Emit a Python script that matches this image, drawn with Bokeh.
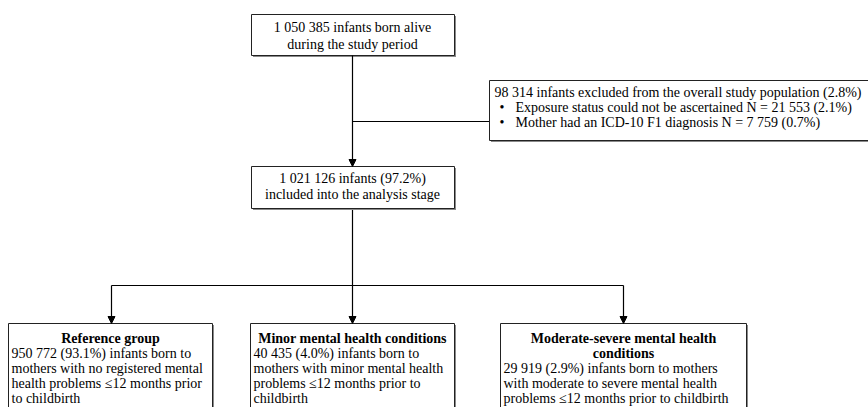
from bokeh.plotting import figure
from bokeh.models import Range1d, Arrow, NormalHead
from bokeh.core.properties import value
from bokeh.embed import file_html
from bokeh.resources import INLINE

# ---- texts (data) ----
top_lines = ["1 050 385 infants born alive", "during the study period"]
mid_lines = ["1 021 126 infants (97.2%)", "included into the analysis stage"]
excl_title = "98 314 infants excluded from the overall study population (2.8%)"
excl_bullets = ["Exposure status could not be ascertained N = 21 553 (2.1%)",
                "Mother had an ICD-10 F1 diagnosis N = 7 759 (0.7%)"]
group_titles = [["Reference group"],
                ["Minor mental health conditions"],
                ["Moderate-severe mental health", "conditions"]]
group_bodies = [["950 772 (93.1%) infants born to",
                 "mothers with no registered mental",
                 "health problems \u226412 months prior",
                 "to childbirth"],
                ["40 435 (4.0%) infants born to",
                 "mothers with minor mental health",
                 "problems \u226412 months prior to",
                 "childbirth"],
                ["29 919 (2.9%) infants born to mothers",
                 "with moderate to severe mental health",
                 "problems \u226412 months prior to childbirth"]]

# ---- layout (pixel-like coordinates, y downward) ----
FONT = value("Liberation Serif")
FS = "14px"
LH = 15

p = figure(width=868, height=407, output_backend="svg", toolbar_location=None,
           x_range=Range1d(0, 868), y_range=Range1d(407, 0),
           min_border=0)
p.axis.visible = False
p.grid.visible = False
p.outline_line_color = None
p.background_fill_color = "white"


def box(l, r, t, b):
    p.quad(left=[l + 1.5], right=[r + 1.5], top=[t + 1.5], bottom=[b + 1.5],
           fill_color="#8a8a8a", line_color=None)
    p.quad(left=[l], right=[r], top=[t], bottom=[b], fill_color="white",
           line_color="#222222", line_width=1)


def line(xs, ys):
    p.line(xs, ys, line_color="black", line_width=1.2)


def arrow(x, y0, y1):
    p.add_layout(Arrow(end=NormalHead(size=7, fill_color="black", line_color="black"),
                       x_start=x, y_start=y0, x_end=x, y_end=y1,
                       line_color="black", line_width=1.2))


def texts(xs, ys, ts, align="left", bold=False):
    p.text(x=xs, y=ys, text=ts, text_font=FONT, text_font_size=FS,
           text_align=align, text_baseline="middle", text_color="black",
           text_font_style="bold" if bold else "normal")


# connectors
cx = 352
arrow(cx, 55, 166)
line([cx, 489], [121, 121])
line([cx, cx], [208, 285])
gx = [111, 352, 623]
line([gx[0], gx[2]], [285, 285])
for x in gx:
    arrow(x, 285, 323)

# top box
box(251, 454, 14, 55)
texts([cx] * 2, [27, 44], top_lines, align="center")

# middle box
box(251, 454, 166, 208)
texts([cx] * 2, [178, 194], mid_lines, align="center")

# exclusion box
box(489, 920, 80, 140)
texts([494], [92], [excl_title])
texts([499] * 2, [107, 122], ["\u2022"] * 2)
texts([515] * 2, [107, 122], excl_bullets)

# group boxes
gl = [8, 250, 500]
gr = [212, 454, 746]
for i in range(3):
    box(gl[i], gr[i], 323, 460)
    c = (gl[i] + gr[i]) / 2
    nt = len(group_titles[i])
    texts([c] * nt, [338 + LH * k for k in range(nt)], group_titles[i],
          align="center", bold=True)
    nb = len(group_bodies[i])
    texts([gl[i] + 3] * nb, [338 + LH * (nt + k) for k in range(nb)],
          group_bodies[i])

open("out.html", "w").write(file_html(p, INLINE))
